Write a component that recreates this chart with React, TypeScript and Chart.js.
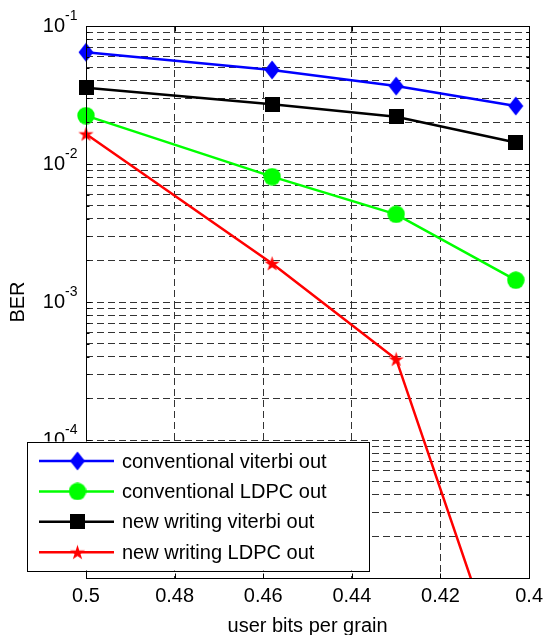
import React, { useEffect, useRef } from 'react';
import { Chart, registerables } from 'chart.js';

Chart.register(...registerables);

// ---- data ----
const xValues = [0.5, 0.458, 0.43, 0.403];
const convViterbi = [0.0645, 0.048, 0.0367, 0.0263];
const convLDPC = [0.0224, 0.0081, 0.00432, 0.00144];
const newViterbi = [0.0357, 0.0271, 0.022, 0.0143];
const newLDPC = [0.0165, 0.0019, 0.000385, 0.0000011];
const seriesLabels = [
  'conventional viterbi out',
  'conventional LDPC out',
  'new writing viterbi out',
  'new writing LDPC out',
];
const seriesColors = ['#0000ff', '#00ff00', '#000000', '#ff0000'];
const xTicks = [0.5, 0.48, 0.46, 0.44, 0.42, 0.4];
const yExponents = [-5, -4, -3, -2, -1];
const yLabelExponents = [-4, -3, -2, -1];

const FONT = 'Arial, "Liberation Sans", sans-serif';

function makeMarker(shape: string, color: string): HTMLCanvasElement {
  const c = document.createElement('canvas');
  let w = 18, h = 18;
  if (shape === 'diamond') { w = 16; h = 20; }
  if (shape === 'square') { w = 15; h = 15; }
  if (shape === 'star') { w = 17; h = 17; }
  c.width = w; c.height = h;
  const ctx = c.getContext('2d')!;
  ctx.fillStyle = color;
  ctx.beginPath();
  if (shape === 'circle') {
    ctx.arc(w / 2, h / 2, w / 2 - 0.3, 0, Math.PI * 2);
  } else if (shape === 'square') {
    ctx.rect(0, 0, w, h);
  } else if (shape === 'diamond') {
    ctx.moveTo(w / 2, 0.5);
    ctx.lineTo(w - 0.5, h / 2);
    ctx.lineTo(w / 2, h - 0.5);
    ctx.lineTo(0.5, h / 2);
  } else {
    const cx = w / 2, cy = h / 2 + 0.6, R = 8, r = R * 0.382;
    for (let i = 0; i < 10; i++) {
      const a = -Math.PI / 2 + (i * Math.PI) / 5;
      const rad = i % 2 === 0 ? R : r;
      const px = cx + rad * Math.cos(a), py = cy + rad * Math.sin(a);
      if (i === 0) ctx.moveTo(px, py); else ctx.lineTo(px, py);
    }
  }
  ctx.closePath();
  ctx.fill();
  return c;
}

export default function App() {
  const ref = useRef<HTMLCanvasElement | null>(null);

  useEffect(() => {
    if (!ref.current) return;
    const shapes = ['diamond', 'circle', 'square', 'star'];
    const markers = shapes.map((s, i) => makeMarker(s, seriesColors[i]));
    const seriesValues = [convViterbi, convLDPC, newViterbi, newLDPC];

    const datasets = seriesValues.map((vals, i) => ({
      label: seriesLabels[i],
      data: vals.map((v, j) => ({ x: xValues[j], y: v })),
      borderColor: seriesColors[i],
      backgroundColor: seriesColors[i],
      borderWidth: 2.5,
      pointStyle: markers[i] as any,
      pointRadius: 8,
      tension: 0,
      clip: { left: 15, right: 15, top: 15, bottom: 1 },
    }));

    const decor = {
      id: 'decor',
      afterDraw(chart: any) {
        const { ctx, chartArea: a, scales } = chart;
        const xs = scales.x, ys = scales.y;
        ctx.save();
        ctx.setLineDash([]);
        ctx.strokeStyle = '#000';
        ctx.lineWidth = 1;
        const L = Math.round(a.left) + 0.5, R = Math.round(a.right) + 0.5;
        const T = Math.round(a.top) + 0.5, B = Math.round(a.bottom) + 0.5;
        ctx.beginPath();
        // inner tick marks
        for (const v of xTicks) {
          const px = Math.round(xs.getPixelForValue(v)) + 0.5;
          ctx.moveTo(px, B); ctx.lineTo(px, B - 5);
          ctx.moveTo(px, T); ctx.lineTo(px, T + 5);
        }
        for (const e of yExponents) {
          for (let m = 1; m <= 9; m++) {
            const v = m * Math.pow(10, e);
            if (v > 0.1 + 1e-12) break;
            const py = Math.round(ys.getPixelForValue(v)) + 0.5;
            const len = m === 1 ? 5 : 3;
            ctx.moveTo(L, py); ctx.lineTo(L + len, py);
            ctx.moveTo(R, py); ctx.lineTo(R - len, py);
          }
        }
        ctx.stroke();
        ctx.strokeRect(L, T, R - L, B - T);

        // y tick labels with superscript exponents
        ctx.fillStyle = '#000';
        ctx.textBaseline = 'middle';
        for (const e of yLabelExponents) {
          const py = ys.getPixelForValue(Math.pow(10, e));
          ctx.font = `20px ${FONT}`;
          ctx.textAlign = 'right';
          ctx.fillText('10', a.left - 21, py);
          ctx.font = `14px ${FONT}`;
          ctx.textAlign = 'left';
          ctx.fillText(String(e), a.left - 21, py - 10);
        }

        // legend box
        const bx = a.left - 59, by = a.bottom - 136.5, bw = 342, bh = 129;
        ctx.fillStyle = '#fff';
        ctx.fillRect(bx, by, bw, bh);
        ctx.strokeStyle = '#000';
        ctx.lineWidth = 1;
        ctx.strokeRect(Math.round(bx) + 0.5, Math.round(by) + 0.5, bw, bh);
        for (let i = 0; i < seriesLabels.length; i++) {
          const ry = by + 19.5 + i * 30.4;
          ctx.strokeStyle = seriesColors[i];
          ctx.lineWidth = 2.5;
          ctx.beginPath();
          ctx.moveTo(bx + 12, ry);
          ctx.lineTo(bx + 87, ry);
          ctx.stroke();
          const mk = markers[i];
          ctx.drawImage(mk, bx + 50.5 - mk.width / 2, ry - mk.height / 2);
          ctx.fillStyle = '#000';
          ctx.font = `20px ${FONT}`;
          ctx.textAlign = 'left';
          ctx.textBaseline = 'middle';
          ctx.fillText(seriesLabels[i], bx + 95, ry + 1);
        }
        ctx.restore();
      },
    };

    const chart = new Chart(ref.current, {
      type: 'line',
      data: { datasets: datasets as any },
      options: {
        animation: false,
        responsive: false,
        maintainAspectRatio: false,
        layout: { padding: { left: 0, right: 16, top: 26, bottom: 0 } },
        plugins: { legend: { display: false }, tooltip: { enabled: false } },
        scales: {
          x: {
            type: 'linear',
            min: 0.4,
            max: 0.5,
            reverse: true,
            afterBuildTicks: (s: any) => { s.ticks = xTicks.map((v) => ({ value: v })); },
            afterFit: (s: any) => { s.height = 57; },
            ticks: {
              callback: (v: any) => String(Number(Number(v).toFixed(2))),
              font: { size: 20, family: FONT },
              color: '#000',
              padding: 6,
              maxRotation: 0,
              autoSkip: false,
            },
            grid: { color: '#333', drawTicks: false, lineWidth: 1 },
            border: { display: false, dash: [7, 4] },
            title: {
              display: true,
              text: 'user bits per grain',
              font: { size: 20, family: FONT },
              color: '#000',
              padding: { top: 0, bottom: -3 },
            },
          },
          y: {
            type: 'logarithmic',
            min: 1e-5,
            max: 1e-1,
            afterBuildTicks: (s: any) => {
              const t: any[] = [];
              for (const e of yExponents) {
                for (let m = 1; m <= 9; m++) {
                  const v = m * Math.pow(10, e);
                  if (v > 0.1 + 1e-12) break;
                  t.push({ value: v, major: m === 1 });
                }
              }
              s.ticks = t;
            },
            afterFit: (s: any) => { s.width = 86; },
            ticks: { display: false },
            grid: { color: '#333', drawTicks: false, lineWidth: 1 },
            border: { display: false, dash: [7, 4] },
            title: {
              display: true,
              text: 'BER',
              font: { size: 20, family: FONT },
              color: '#000',
              padding: { top: 6, bottom: 0 },
            },
          },
        },
      },
      plugins: [decor],
    } as any);

    return () => chart.destroy();
  }, []);

  return (
    <div style={{ position: 'absolute', left: 0, top: 0, width: 549, height: 635, background: '#fff' }}>
      <canvas ref={ref} width={549} height={635} style={{ display: 'block', width: 549, height: 635 }} />
    </div>
  );
}
